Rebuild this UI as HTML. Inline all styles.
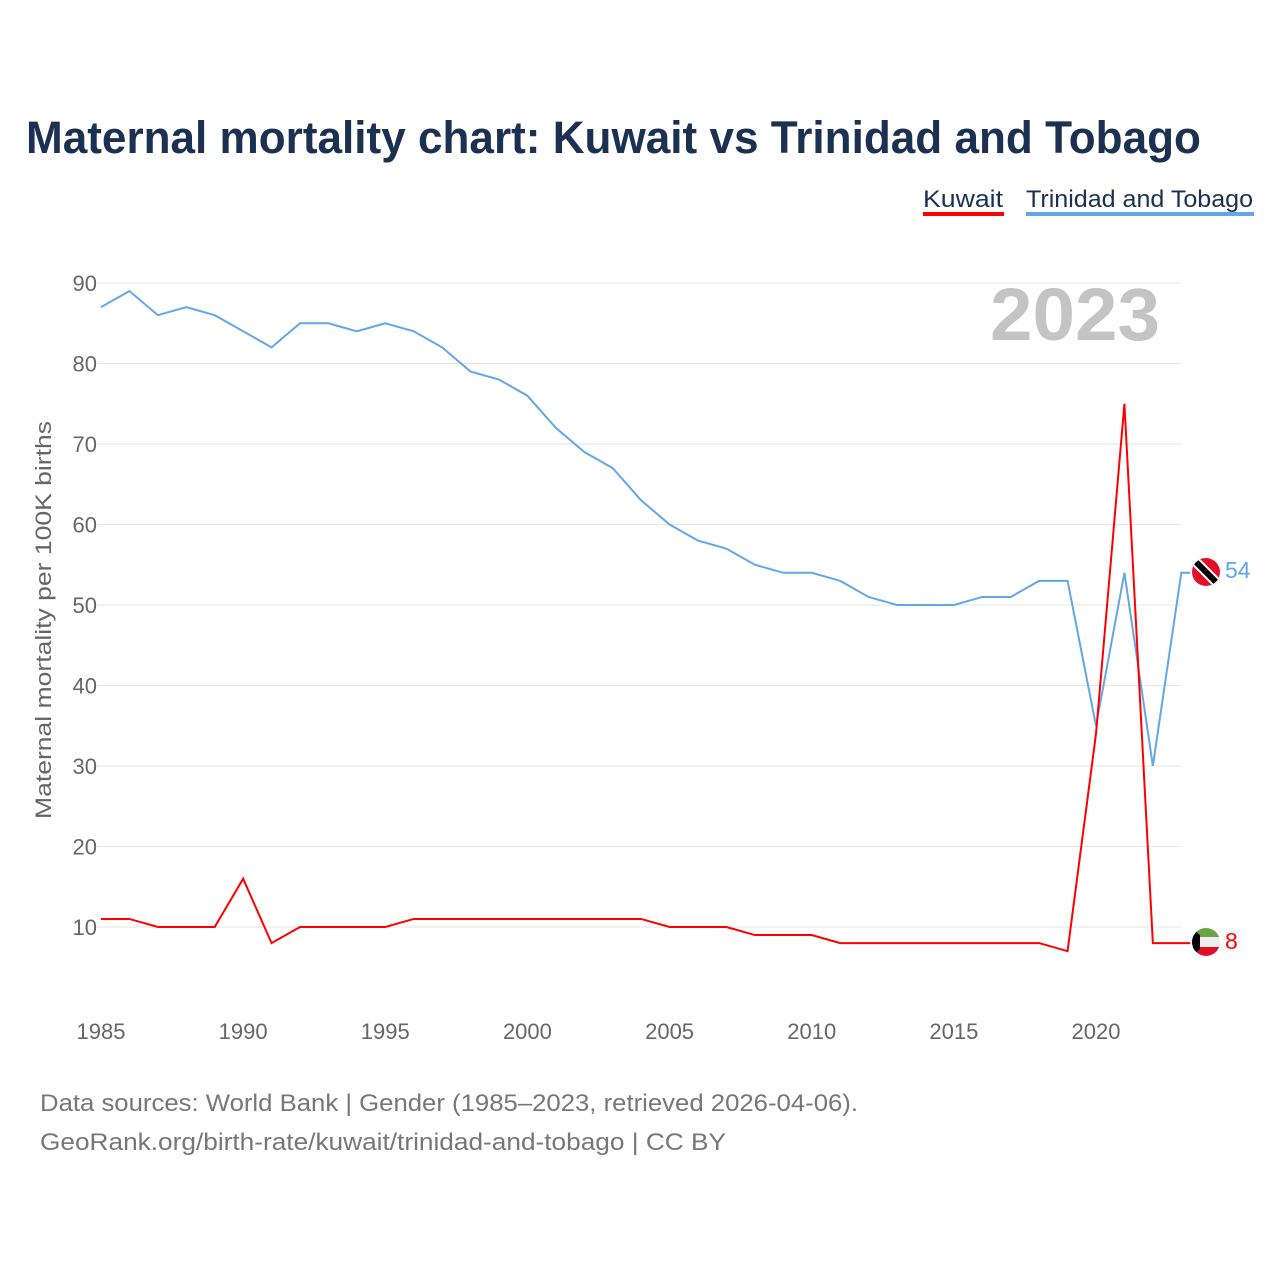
<!DOCTYPE html>
<html><head><meta charset="utf-8"><style>
body{margin:0;background:#fff;width:1280px;height:1280px;overflow:hidden;font-family:"Liberation Sans",sans-serif}
</style></head><body>
<svg id="c" width="1280" height="1280" xmlns="http://www.w3.org/2000/svg">
<defs>
<clipPath id="cTT"><circle cx="1206" cy="572" r="14"/></clipPath>
<clipPath id="cKW"><circle cx="1206" cy="942" r="14"/></clipPath>
</defs>
<text x="26" y="153" font-size="45" font-weight="bold" fill="#1c3152" textLength="1175" lengthAdjust="spacingAndGlyphs">Maternal mortality chart: Kuwait vs Trinidad and Tobago</text>
<g><text x="923" y="207" font-size="24" fill="#1c3152" textLength="80" lengthAdjust="spacingAndGlyphs">Kuwait</text><rect x="923" y="212" width="81" height="4" fill="#ff0000"/></g>
<g><text x="1026" y="207" font-size="24" fill="#1c3152" textLength="227" lengthAdjust="spacingAndGlyphs">Trinidad and Tobago</text><rect x="1026" y="212" width="228" height="4" fill="#63a7e8"/></g>
<text x="1160" y="340" font-size="74" font-weight="bold" fill="#c4c4c4" text-anchor="end" textLength="170" lengthAdjust="spacingAndGlyphs">2023</text>
<text transform="translate(51,620) rotate(-90)" font-size="22" fill="#666" text-anchor="middle" textLength="398" lengthAdjust="spacingAndGlyphs">Maternal mortality per 100K births</text>
<g id="grid"></g><g id="lines"></g>
<g clip-path="url(#cTT)">
<rect x="1190" y="556" width="32" height="32" fill="#e0102a"/>
<line x1="1192" y1="558" x2="1220" y2="586" stroke="#fff" stroke-width="10"/>
<line x1="1192" y1="558" x2="1220" y2="586" stroke="#000" stroke-width="6"/></g>
<g clip-path="url(#cKW)">
<rect x="1190" y="926" width="32" height="11" fill="#6aa442"/>
<rect x="1190" y="937" width="32" height="10" fill="#eee"/>
<rect x="1190" y="947" width="32" height="12" fill="#de1027"/>
<polygon points="1190,926 1200,935 1200,949 1190,958" fill="#000"/></g>
<text x="1225" y="578" font-size="23" fill="#63a7e8">54</text>
<text x="1225" y="949" font-size="23" fill="#ff0000">8</text>
<text x="40" y="1111" font-size="24" fill="#777" textLength="818" lengthAdjust="spacingAndGlyphs">Data sources: World Bank | Gender (1985–2023, retrieved 2026-04-06).</text>
<text x="40" y="1150" font-size="24" fill="#777" textLength="686" lengthAdjust="spacingAndGlyphs">GeoRank.org/birth-rate/kuwait/trinidad-and-tobago | CC BY</text>
</svg>
<script>
const years=[1985,1986,1987,1988,1989,1990,1991,1992,1993,1994,1995,1996,1997,1998,1999,2000,2001,2002,2003,2004,2005,2006,2007,2008,2009,2010,2011,2012,2013,2014,2015,2016,2017,2018,2019,2020,2021,2022,2023];
const trinidad=[87,89,86,87,86,84,82,85,85,84,85,84,82,79,78,76,72,69,67,63,60,58,57,55,54,54,53,51,50,50,50,51,51,53,53,35,54,30,54];
const kuwait=[11,11,10,10,10,16,8,10,10,10,10,11,11,11,11,11,11,11,11,11,10,10,10,9,9,9,8,8,8,8,8,8,8,8,7,34,75,8,8];
const yTicks=[10,20,30,40,50,60,70,80,90];
const xTicks=[1985,1990,1995,2000,2005,2010,2015,2020];
const NS="http://www.w3.org/2000/svg";
function X(y){return 101+(y-1985)*995/35;}
function Y(v){return 1007.5-v*8.05;}
const grid=document.getElementById('grid'),lines=document.getElementById('lines');
yTicks.forEach(t=>{
 const l=document.createElementNS(NS,'line');
 
 
 l.setAttribute('x1',97);l.setAttribute('x2',1181);l.setAttribute('y1',Y(t));l.setAttribute('y2',Y(t));
 l.setAttribute('stroke','#e6e6e6');grid.appendChild(l);
 const tx=document.createElementNS(NS,'text');
 
 
 tx.setAttribute('x',97);tx.setAttribute('y',Y(t)+8);tx.setAttribute('text-anchor','end');
 tx.setAttribute('font-size','22');tx.setAttribute('fill','#666');tx.textContent=t;grid.appendChild(tx);
});
xTicks.forEach(t=>{
 const tx=document.createElementNS(NS,'text');
 
 
 tx.setAttribute('x',X(t));tx.setAttribute('y',1039);tx.setAttribute('text-anchor','middle');
 tx.setAttribute('font-size','22');tx.setAttribute('fill','#666');tx.textContent=t;grid.appendChild(tx);
});
function line(vals,color,name){
 const p=document.createElementNS(NS,'polyline');
 
 
 let pts=vals.map((v,i)=>X(years[i])+','+Y(v));
 pts.push((X(years[years.length-1])+9)+','+Y(vals[vals.length-1]));
 p.setAttribute('points',pts.join(' '));
 p.setAttribute('fill','none');p.setAttribute('stroke',color);p.setAttribute('stroke-width','2');
 lines.appendChild(p);
}
line(trinidad,'#63a7e8','line-trinidad');
line(kuwait,'#ff0000','line-kuwait');
</script>
</body></html>
